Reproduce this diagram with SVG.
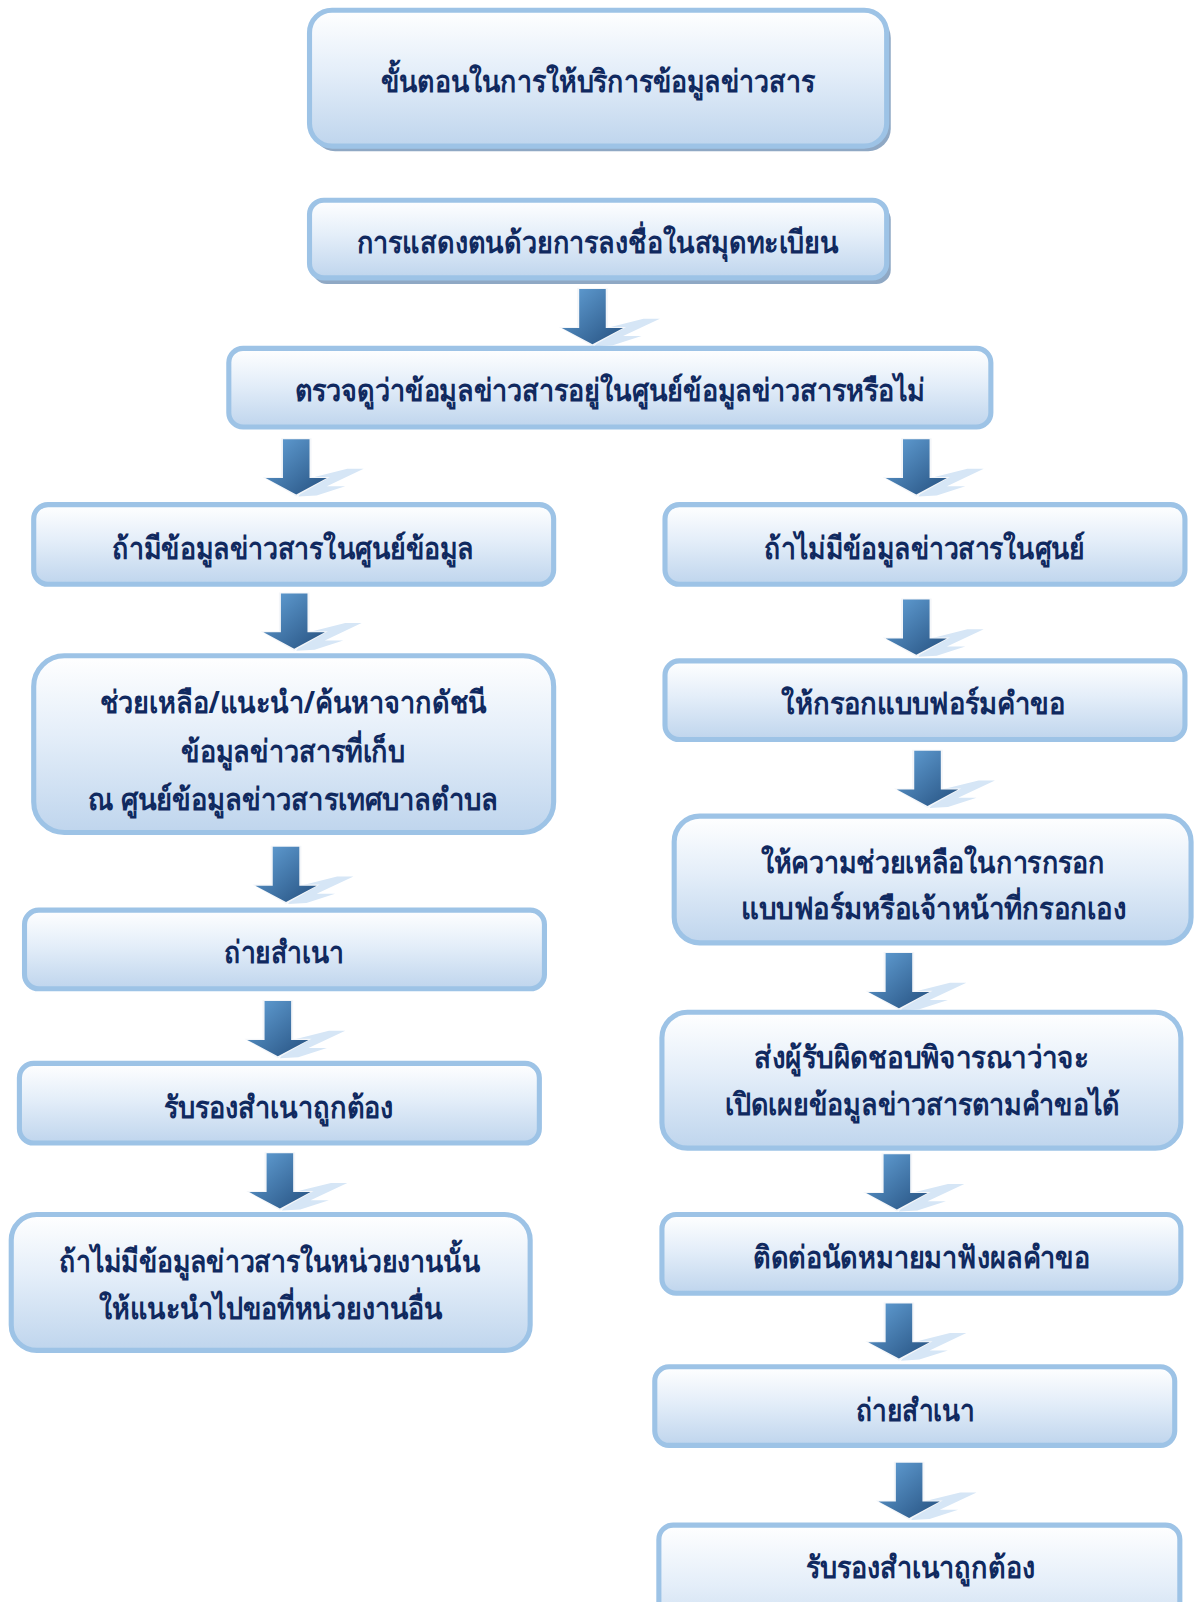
<svg xmlns="http://www.w3.org/2000/svg" width="1195" height="1602" viewBox="0 0 1195 1602">
<defs>
<linearGradient id="bg" x1="0" y1="0" x2="0" y2="1">
<stop offset="0" stop-color="#ffffff"/>
<stop offset="0.45" stop-color="#e4eef9"/>
<stop offset="1" stop-color="#bfd5ed"/>
</linearGradient>
<linearGradient id="ag" x1="0" y1="0" x2="1" y2="1">
<stop offset="0" stop-color="#64a2d8"/>
<stop offset="1" stop-color="#25507f"/>
</linearGradient>
<g id="arrow">
<path d="M2,56 L20,55 L48,46 L30,46 L66,29 L50,29 L14,38 Z" fill="#d6e6f6"/>
<path d="M-15,-1 L15,-1 L15,37 L33,37 L0,56 L-33,37 L-15,37 Z" fill="#f4f6f9"/>
<path d="M-13,0 L13,0 L13,38 L30,38 L0,54 L-30,38 L-13,38 Z" fill="url(#ag)"/>
</g>
</defs>
<style>
.box{fill:url(#bg);stroke:#9dc3e6;stroke-width:5}
.sh{fill:#8fa8c4}
.t{font-family:"Noto Sans","DejaVu Sans",sans-serif;font-weight:bold;font-size:30px;fill:#10295f;text-anchor:middle}
</style>
<rect width="1195" height="1602" fill="#ffffff"/>
<g transform="scale(1.0215)">
<g id="connectors">
<use href="#arrow" x="580" y="283"/>
<use href="#arrow" x="290" y="430"/>
<use href="#arrow" x="897" y="430"/>
<use href="#arrow" x="288" y="581"/>
<use href="#arrow" x="897" y="587"/>
<use href="#arrow" x="280" y="829"/>
<use href="#arrow" x="908" y="735"/>
<use href="#arrow" x="880" y="933"/>
<use href="#arrow" x="272" y="980"/>
<use href="#arrow" x="878" y="1130"/>
<use href="#arrow" x="274" y="1129"/>
<use href="#arrow" x="880" y="1276"/>
<use href="#arrow" x="890" y="1432"/>
</g>
<g id="n1">
<rect class="sh" x="306" y="15" width="566" height="133" rx="22"/>
<rect class="box" x="303" y="10" width="565" height="133" rx="22"/>
<text class="t" x="585" y="90" textLength="425" lengthAdjust="spacingAndGlyphs">ขั้นตอนในการให้บริการข้อมูลข่าวสาร</text>
</g>
<g id="n2">
<rect class="sh" x="306" y="201" width="566" height="77" rx="14"/>
<rect class="box" x="303" y="196" width="565" height="76" rx="14"/>
<text class="t" x="585" y="248" textLength="472" lengthAdjust="spacingAndGlyphs">การแสดงตนด้วยการลงชื่อในสมุดทะเบียน</text>
</g>
<g id="n3">
<rect class="box" x="224" y="341" width="746" height="77" rx="14"/>
<text class="t" x="597" y="393" textLength="617" lengthAdjust="spacingAndGlyphs">ตรวจดูว่าข้อมูลข่าวสารอยู่ในศูนย์ข้อมูลข่าวสารหรือไม่</text>
</g>
<g id="n4">
<rect class="box" x="33" y="494" width="509" height="78" rx="14"/>
<text class="t" x="287" y="547" textLength="354" lengthAdjust="spacingAndGlyphs">ถ้ามีข้อมูลข่าวสารในศูนย์ข้อมูล</text>
</g>
<g id="n5">
<rect class="box" x="651" y="494" width="509" height="78" rx="14"/>
<text class="t" x="905" y="547" textLength="314" lengthAdjust="spacingAndGlyphs">ถ้าไม่มีข้อมูลข่าวสารในศูนย์</text>
</g>
<g id="n6">
<rect class="box" x="33" y="642" width="509" height="173" rx="30"/>
<text class="t" x="287" y="698" textLength="379" lengthAdjust="spacingAndGlyphs">ช่วยเหลือ/แนะนำ/ค้นหาจากดัชนี</text>
<text class="t" x="287" y="746" textLength="219" lengthAdjust="spacingAndGlyphs">ข้อมูลข่าวสารที่เก็บ</text>
<text class="t" x="287" y="793" textLength="401" lengthAdjust="spacingAndGlyphs">ณ ศูนย์ข้อมูลข่าวสารเทศบาลตำบล</text>
</g>
<g id="n7">
<rect class="box" x="651" y="647" width="509" height="77" rx="14"/>
<text class="t" x="904" y="699" textLength="278" lengthAdjust="spacingAndGlyphs">ให้กรอกแบบฟอร์มคำขอ</text>
</g>
<g id="n8">
<rect class="box" x="660" y="799" width="506" height="124" rx="25"/>
<text class="t" x="913" y="855" textLength="337" lengthAdjust="spacingAndGlyphs">ให้ความช่วยเหลือในการกรอก</text>
<text class="t" x="914" y="900" textLength="377" lengthAdjust="spacingAndGlyphs">แบบฟอร์มหรือเจ้าหน้าที่กรอกเอง</text>
</g>
<g id="n9">
<rect class="box" x="24" y="891" width="509" height="77" rx="14"/>
<text class="t" x="278" y="943" textLength="117" lengthAdjust="spacingAndGlyphs">ถ่ายสำเนา</text>
</g>
<g id="n10">
<rect class="box" x="648" y="991" width="508" height="133" rx="25"/>
<text class="t" x="902" y="1046" textLength="327" lengthAdjust="spacingAndGlyphs">ส่งผู้รับผิดชอบพิจารณาว่าจะ</text>
<text class="t" x="903" y="1092" textLength="386" lengthAdjust="spacingAndGlyphs">เปิดเผยข้อมูลข่าวสารตามคำขอได้</text>
</g>
<g id="n11">
<rect class="box" x="19" y="1041" width="509" height="78" rx="14"/>
<text class="t" x="273" y="1094" textLength="225" lengthAdjust="spacingAndGlyphs">รับรองสำเนาถูกต้อง</text>
</g>
<g id="n12">
<rect class="box" x="11" y="1189" width="508" height="133" rx="25"/>
<text class="t" x="264" y="1245" textLength="412" lengthAdjust="spacingAndGlyphs">ถ้าไม่มีข้อมูลข่าวสารในหน่วยงานนั้น</text>
<text class="t" x="265" y="1291" textLength="336" lengthAdjust="spacingAndGlyphs">ให้แนะนำไปขอที่หน่วยงานอื่น</text>
</g>
<g id="n13">
<rect class="box" x="648" y="1189" width="508" height="77" rx="14"/>
<text class="t" x="902" y="1241" textLength="330" lengthAdjust="spacingAndGlyphs">ติดต่อนัดหมายมาฟังผลคำขอ</text>
</g>
<g id="n14">
<rect class="box" x="641" y="1338" width="509" height="77" rx="14"/>
<text class="t" x="896" y="1391" textLength="116" lengthAdjust="spacingAndGlyphs">ถ่ายสำเนา</text>
</g>
<g id="n15">
<rect class="box" x="645" y="1493" width="510" height="130" rx="14"/>
<text class="t" x="901" y="1545" textLength="224" lengthAdjust="spacingAndGlyphs">รับรองสำเนาถูกต้อง</text>
</g>
</g>
</svg>
